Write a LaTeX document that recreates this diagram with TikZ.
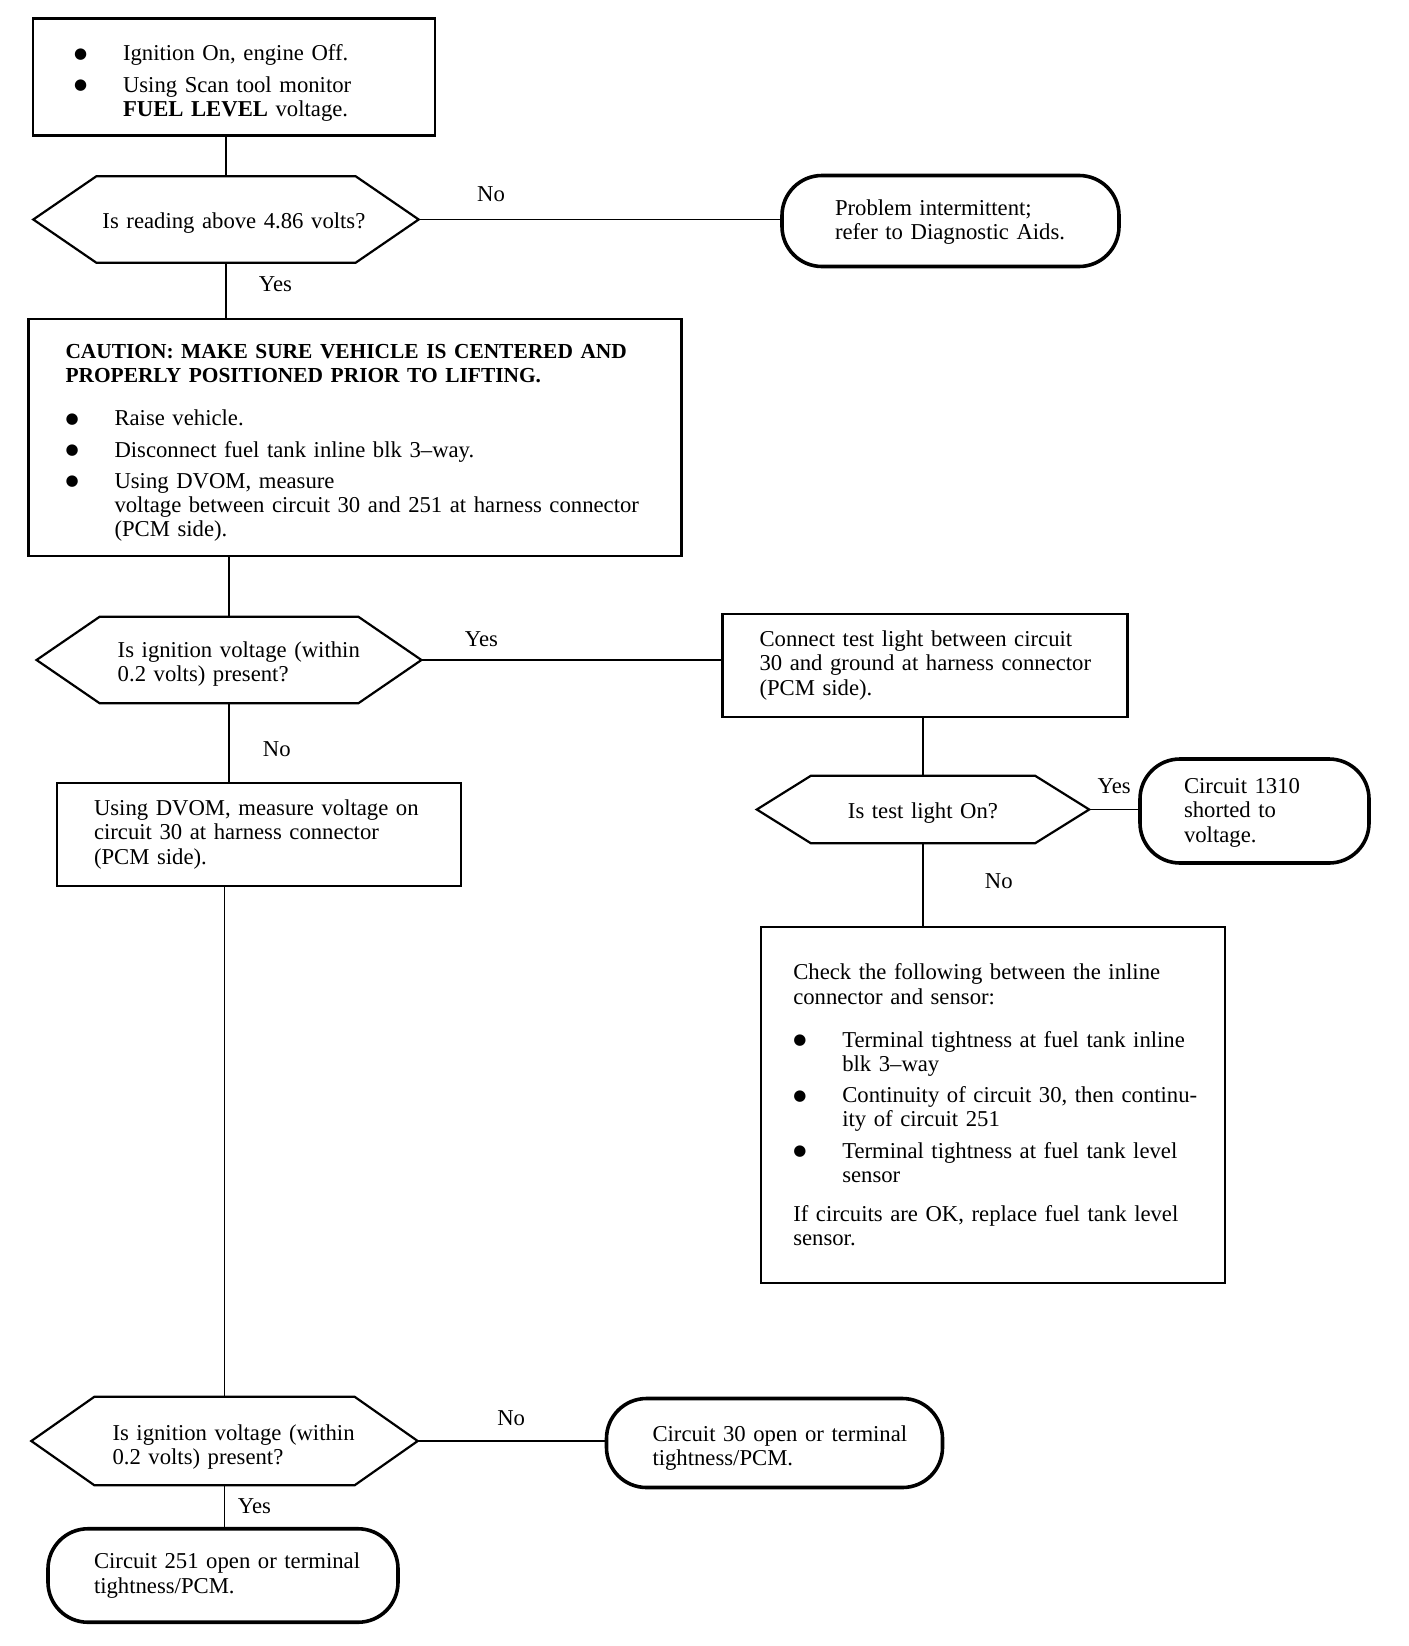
\documentclass[tikz,border=0pt]{standalone}
\usepackage{fontspec}
\setmainfont{Liberation Serif}
\newfontfamily\symfont{DejaVu Sans}

\newcommand{\flowfont}{\fontsize{22.7}{24.2}\selectfont}
\newcommand{\capfont}{\fontsize{21.4}{24.2}\selectfont\bfseries}
\newcommand{\bdot}{\raisebox{2.5pt}{\symfont\fontsize{15}{15}\selectfont ●}}
\newcommand{\bitem}[1]{\makebox[49pt][l]{\bdot}#1}
\newcommand{\bcont}[1]{\hspace*{49pt}#1}
% hexagon outline round a decision node: name, slant
\newcommand{\hexa}[2]{%
  \draw[hexline] (#1.west) -- ([xshift=#2]#1.north west) -- ([xshift=-#2]#1.north east)
    -- (#1.east) -- ([xshift=-#2]#1.south east) -- ([xshift=#2]#1.south west) -- cycle;}

\begin{document}
\begin{tikzpicture}[x=1pt, y=-1pt,
  box/.style={rectangle, draw=black, line width=2.4pt, align=left, font=\flowfont,
              inner xsep=0pt, inner ysep=0pt},
  term/.style={rectangle, rounded corners=40pt, draw=black, line width=3.6pt, align=left,
               font=\flowfont, inner xsep=0pt, inner ysep=0pt},
  dec/.style={rectangle, font=\flowfont, inner xsep=0pt, inner ysep=0pt},
  sz/.style 2 args={minimum width=#1, text width=#1, minimum height=#2},
  ind/.style={execute at begin node={\leftskip=#1}},
  hexline/.style={line width=2.2pt},
  wire/.style={line width=1.8pt},
  lbl/.style={font=\flowfont, inner sep=0pt}
]
  \useasboundingbox (0,0) rectangle (1408,1646);

  % left column
  \node[box, sz={402pt}{117pt}, ind=41pt, text height=28pt] (start) at (234,77)
    {\bitem{Ignition On, engine Off.}\\[7pt]
     \bitem{Using Scan tool monitor}\\
     \bcont{\textbf{FUEL LEVEL} voltage.}};
  \node[dec, sz={385pt}{86pt}, align=left, ind=69pt, text height=23pt] (q1) at (226,219.5)
    {Is reading above 4.86 volts?};
  \node[box, sz={653pt}{236.5pt}, ind=37pt, text height=25pt] (caution) at (355,437.5)
    {{\capfont CAUTION: MAKE SURE VEHICLE IS CENTERED AND}\\
     {\capfont PROPERLY POSITIONED PRIOR TO LIFTING.}\\[19pt]
     \bitem{Raise vehicle.}\\[7pt]
     \bitem{Disconnect fuel tank inline blk 3--way.}\\[7pt]
     \bitem{Using DVOM, measure}\\
     \bcont{voltage between circuit 30 and 251 at harness connector}\\
     \bcont{(PCM side).}};
  \node[dec, sz={384.5pt}{86pt}, align=left, ind=81pt, text height=24.2pt] (q2) at (229,660)
    {Is ignition voltage (within\\0.2 volts) present?};
  \node[box, sz={404pt}{103.5pt}, ind=37pt] (dvom) at (259,834.5)
    {Using DVOM, measure voltage on\\circuit 30 at harness connector\\(PCM side).};
  \node[dec, sz={386pt}{88pt}, align=left, ind=81pt, text height=28.4pt] (q4) at (224.5,1441)
    {Is ignition voltage (within\\0.2 volts) present?};
  \node[term, sz={350pt}{93.5pt}, ind=46pt] (open251) at (223,1575.5)
    {Circuit 251 open or terminal\\tightness/PCM.};

  % right side
  \node[term, sz={337pt}{91pt}, ind=53pt, text height=17.5pt] (intermit) at (950.5,221)
    {Problem intermittent;\\refer to Diagnostic Aids.};
  \node[box, sz={405pt}{102.5pt}, ind=37pt] (testlight) at (925,665.5)
    {Connect test light between circuit\\30 and ground at harness connector\\(PCM side).};
  \node[dec, sz={332pt}{67pt}, align=center, text height=22.9pt] (q3) at (923,809.5)
    {Is test light On?};
  \node[term, sz={229pt}{104pt}, ind=44pt, text height=18.5pt] (short1310) at (1254.5,811)
    {Circuit 1310\\shorted to\\voltage.};
  \node[box, sz={464.5pt}{356pt}, ind=32.5pt] (check) at (993,1105)
    {Check the following between the inline\\
     connector and sensor:\\[19pt]
     \bitem{Terminal tightness at fuel tank inline}\\
     \bcont{blk 3--way}\\[7pt]
     \bitem{Continuity of circuit 30, then continu-}\\
     \bcont{ity of circuit 251}\\[7pt]
     \bitem{Terminal tightness at fuel tank level}\\
     \bcont{sensor}\\[15pt]
     If circuits are OK, replace fuel tank level\\
     sensor.};
  \node[term, sz={336pt}{89pt}, ind=46pt, text height=25.5pt] (open30) at (774.5,1443)
    {Circuit 30 open or terminal\\tightness/PCM.};

  \hexa{q1}{63pt}
  \hexa{q2}{63pt}
  \hexa{q3}{54pt}
  \hexa{q4}{63pt}

  \draw[wire] (q1.north |- start.south) -- (q1.north);
  \draw[wire] (q1.east) -- node[lbl, pos=0.2, above=17pt]{No} (q1.east -| intermit.west);
  \draw[wire] (q1.south) -- node[lbl, pos=0.38, right=32pt]{Yes} (q1.south |- caution.north);
  \draw[wire] (q2.north |- caution.south) -- (q2.north);
  \draw[wire] (q2.east) -- node[lbl, pos=0.2, above=12pt]{Yes} (q2.east -| testlight.west);
  \draw[wire] (q2.south) -- node[lbl, pos=0.59, right=33pt]{No} (q2.south |- dvom.north);
  \draw[wire] (q3.north |- testlight.south) -- (q3.north);
  \draw[wire] (q3.east) -- node[lbl, pos=0.51, above=15pt]{Yes} (q3.east -| short1310.west);
  \draw[wire] (q3.south) -- node[lbl, pos=0.455, right=61pt]{No} (q3.south |- check.north);
  \draw[wire] (q4.north |- dvom.south) -- (q4.north);
  \draw[wire] (q4.east) -- node[lbl, pos=0.5, above=14pt]{No} (q4.east -| open30.west);
  \draw[wire] (q4.south) -- node[lbl, pos=0.51, right=12.5pt]{Yes} (q4.south |- open251.north);
\end{tikzpicture}
\end{document}
